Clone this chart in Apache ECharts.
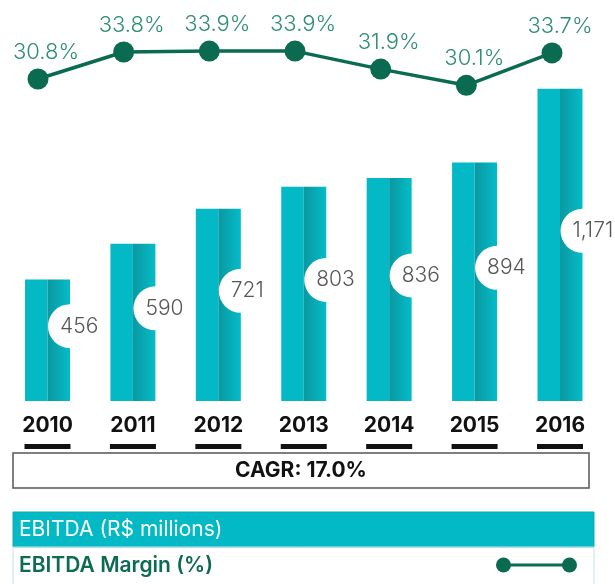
<!DOCTYPE html>
<html>
<head>
<meta charset="utf-8">
<script src="https://cdn.jsdelivr.net/npm/echarts@6/dist/echarts.min.js"></script>
<style>
  html, body { margin: 0; padding: 0; background: #fff; }
  #chart { width: 615px; height: 584px; }
</style>
</head>
<body>
<div id="chart"></div>
<script>
// ---- data ----
const years = ['2010', '2011', '2012', '2013', '2014', '2015', '2016'];
const ebitda = [456, 590, 721, 803, 836, 894, 1171];
const ebitdaMargin = [30.8, 33.8, 33.9, 33.9, 31.9, 30.1, 33.7];
const cagrText = 'CAGR: 17.0%';
const seriesNames = ['EBITDA (R$ millions)', 'EBITDA Margin (%)'];

// ---- styles ----
const FONT = 'Inter, "Noto Sans", sans-serif';
const TEAL = '#02B9C5';
const DARK_GREEN = '#0B6B50';
const LABEL_GREEN = '#2E8E73';

const chart = echarts.init(document.getElementById('chart'), null, { renderer: 'canvas' });

const option = {
  animation: false,
  backgroundColor: '#ffffff',
  grid: [
    { left: 4.8, right: 12.3, top: 1, bottom: 183 },
    { left: 38, right: 63, top: 41.2, bottom: 497.8 }
  ],
  xAxis: [
    {
      type: 'category', gridIndex: 0, data: years,
      axisLine: { show: false }, axisTick: { show: false },
      axisLabel: {
        margin: 7,
        formatter: v => '{y|' + v + '}\n{u|}',
        rich: {
          y: { fontSize: 21, fontWeight: 'bold', color: '#111', fontFamily: FONT, lineHeight: 36 },
          u: { width: 46, height: 5, lineHeight: 5, backgroundColor: '#111' }
        }
      }
    },
    {
      type: 'category', gridIndex: 1, data: years, boundaryGap: false, show: false
    }
  ],
  yAxis: [
    { type: 'value', gridIndex: 0, min: 0, max: 1500, show: false, splitLine: { show: false } },
    { type: 'value', gridIndex: 1, min: 30, max: 35, show: false, splitLine: { show: false } }
  ],
  series: [
    {
      name: seriesNames[0], type: 'bar', xAxisIndex: 0, yAxisIndex: 0,
      data: ebitda, barWidth: 22.5, barGap: '0%',
      itemStyle: { color: TEAL }
    },
    {
      name: seriesNames[0] + ' ', type: 'bar', xAxisIndex: 0, yAxisIndex: 0,
      data: ebitda, barWidth: 22.5, barGap: '0%',
      itemStyle: {
        color: new echarts.graphic.LinearGradient(0, 0, 1, 0, [
          { offset: 0, color: '#0A98A1' },
          { offset: 1, color: '#04BCC8' }
        ])
      },
      label: {
        show: true,
        position: 'right',
        distance: 0,
        offset: [-22, -14],
        formatter: p => p.value.toLocaleString('en-US'),
        fontFamily: FONT,
        fontWeight: 300,
        fontSize: 21,
        color: '#575757',
        backgroundColor: '#ffffff',
        borderRadius: 22,
        height: 44,
        lineHeight: 44,
        padding: [0, 4, 0, 12],
        align: 'left',
        verticalAlign: 'middle'
      }
    },
    {
      name: seriesNames[1], type: 'line', xAxisIndex: 1, yAxisIndex: 1,
      data: ebitdaMargin,
      symbol: 'circle', symbolSize: 21,
      lineStyle: { color: DARK_GREEN, width: 3.5 },
      itemStyle: { color: DARK_GREEN },
      label: {
        show: true, position: 'top', offset: [8, 0],
        formatter: p => p.value.toFixed(1) + '%',
        fontFamily: FONT, fontWeight: 300, fontSize: 22, color: LABEL_GREEN
      },
      z: 5
    }
  ],
  graphic: [
    {
      type: 'rect', shape: { x: 13, y: 453, width: 576, height: 35 },
      style: { fill: '#fff', stroke: '#555', lineWidth: 1.5 }
    },
    {
      type: 'text', x: 301, y: 471,
      style: { text: cagrText, font: 'bold 21px ' + FONT, fill: '#111', textAlign: 'center', textVerticalAlign: 'middle' }
    },
    {
      type: 'rect', shape: { x: 13, y: 512, width: 581, height: 35 },
      style: { fill: TEAL, stroke: '#10a9b3', lineWidth: 1 }
    },
    {
      type: 'text', x: 19, y: 530,
      style: { text: seriesNames[0], font: '21px ' + FONT, fill: '#ffffff', textAlign: 'left', textVerticalAlign: 'middle' }
    },
    {
      type: 'rect', shape: { x: 13, y: 547, width: 581, height: 45 },
      style: { fill: 'none', stroke: '#cfeaeb', lineWidth: 1.2 }
    },
    {
      type: 'text', x: 19, y: 566,
      style: { text: seriesNames[1], font: '600 21px ' + FONT, fill: '#0D6B52', textAlign: 'left', textVerticalAlign: 'middle' }
    },
    {
      type: 'line', shape: { x1: 503, y1: 565, x2: 570, y2: 565 },
      style: { stroke: DARK_GREEN, lineWidth: 3 }
    },
    { type: 'circle', shape: { cx: 503.5, cy: 565, r: 7.5 }, style: { fill: DARK_GREEN } },
    { type: 'circle', shape: { cx: 569.5, cy: 565, r: 7.5 }, style: { fill: DARK_GREEN } }
  ]
};

chart.setOption(option);
</script>
</body>
</html>
